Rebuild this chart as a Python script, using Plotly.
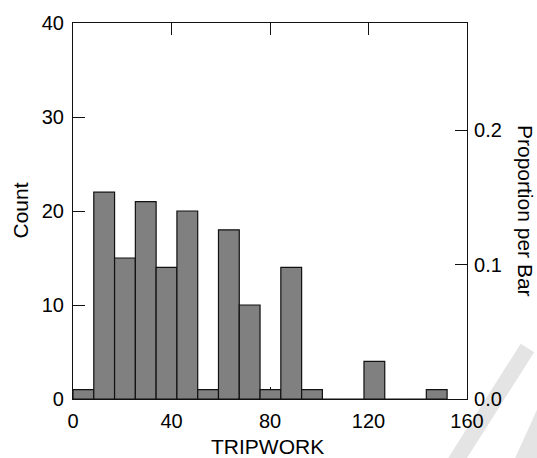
import plotly.graph_objects as go

# Histogram of TRIPWORK: 18 equal-width bins starting at 0
bin_start = 0.0
bin_width = 8.44
counts = [1, 22, 15, 21, 14, 20, 1, 18, 10, 1, 14, 1, 0, 0, 4, 0, 0, 1]

x_ticks = [0, 40, 80, 120, 160]
count_ticks = [0, 10, 20, 30, 40]
prop_ticks = [0.0, 0.1, 0.2]
prop_labels = ["0.0", "0.1", "0.2"]

n_total = sum(counts)
centers = [bin_start + bin_width * (i + 0.5) for i in range(len(counts))]
proportions = [c / n_total for c in counts]

FONT = "Liberation Sans, Arial, sans-serif"
INK = "#111111"

# plot-area geometry (pixels) for placing free text and background strokes
W, H = 537, 458
ML, MR, MT, MB = 73, 70, 20, 59
PW, PH = W - ML - MR, H - MT - MB


def px(x):
    return (x - ML) / PW


def py(y):
    return (H - MB - y) / PH


fig = go.Figure()

fig.add_trace(go.Bar(
    x=centers, y=counts, width=bin_width,
    marker=dict(color="#808080", line=dict(color=INK, width=1.2)),
    hoverinfo="skip", showlegend=False,
))

# invisible companion trace that carries the proportion scale
fig.add_trace(go.Scatter(
    x=centers, y=proportions, yaxis="y2", mode="markers",
    marker=dict(opacity=0), hoverinfo="skip", showlegend=False,
))

axis_common = dict(
    showline=True, linecolor=INK, linewidth=1.2,
    ticks="inside", ticklen=12, tickwidth=1.2, tickcolor=INK,
    showgrid=False, zeroline=False,
    tickfont=dict(family=FONT, size=20, color="black"),
)

fig.update_layout(
    width=W, height=H,
    margin=dict(l=ML, r=MR, t=MT, b=MB, pad=0),
    paper_bgcolor="white", plot_bgcolor="rgba(0,0,0,0)",
    barmode="overlay",
    xaxis=dict(range=[0, 160], tickvals=x_ticks, mirror="ticks",
               layer="below traces", ticklabelstandoff=4, **axis_common),
    yaxis=dict(range=[0, 40], tickvals=count_ticks, layer="below traces",
               ticklabelstandoff=4, **axis_common),
    yaxis2=dict(range=[0, 40 / n_total], overlaying="y", side="right",
                tickvals=prop_ticks, ticktext=prop_labels,
                ticklabelstandoff=2, **axis_common),
    font=dict(family=FONT, color="black"),
)

# faint diagonal strokes in the lower-right corner of the page
stroke_color = "#e4e4e4"
strokes = [
    [(520.7, 343.3), (534.2, 351.8), (459.7, 470), (440.9, 470)],
    [(540, 403), (575, 403), (545, 470), (510, 470)],
]
for pts in strokes:
    path = "M " + " L ".join(f"{px(a):.4f},{py(b):.4f}" for a, b in pts) + " Z"
    fig.add_shape(type="path", path=path, xref="paper", yref="paper",
                  fillcolor=stroke_color, line=dict(width=0), layer="below")

title_font = dict(family=FONT, size=21, color="black")
fig.add_annotation(text="Count", x=px(20.5), y=py(208.5), xref="paper", yref="paper",
                   textangle=-90, showarrow=False, font=title_font,
                   xanchor="center", yanchor="middle")
fig.add_annotation(text="TRIPWORK", x=px(267), y=py(447), xref="paper", yref="paper",
                   showarrow=False, font=title_font, xanchor="center", yanchor="middle")
fig.add_annotation(text="Proportion per Bar", x=px(525.5), y=py(209), xref="paper", yref="paper",
                   textangle=90, showarrow=False, font=title_font,
                   xanchor="center", yanchor="middle")

fig.write_html("out.html")
